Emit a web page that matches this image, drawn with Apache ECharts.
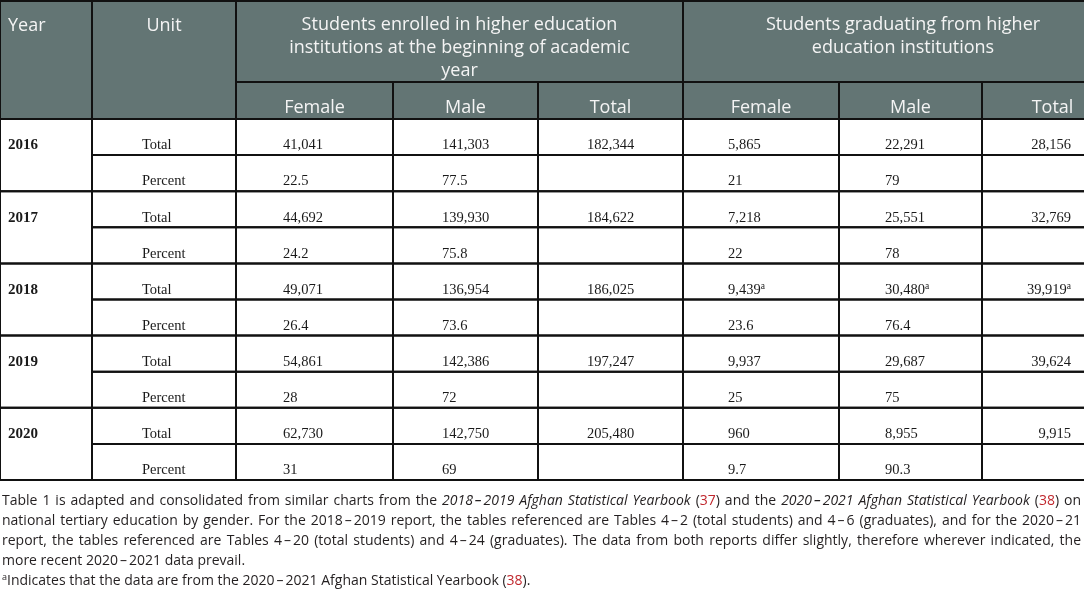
<!DOCTYPE html>
<html><head><meta charset="utf-8">
<script src="https://cdn.jsdelivr.net/npm/echarts@6/dist/echarts.min.js"></script>
<style>html,body{margin:0;padding:0;background:#fff;}#c{width:1084px;height:590px;}</style>
</head><body><div id="c"></div>
<script>
// ---------------- data ----------------
const years = ['2016', '2017', '2018', '2019', '2020'];
const units = ['Total', 'Percent'];
const topHeaders = ['Year', 'Unit'];
const groupHeaders = [
  'Students enrolled in higher education\ninstitutions at the beginning of academic\nyear',
  'Students graduating from higher\neducation institutions'
];
const subHeaders = ['Female', 'Male', 'Total', 'Female', 'Male', 'Total'];

const enrolledFemale = [41041, 44692, 49071, 54861, 62730];
const enrolledMale = [141303, 139930, 136954, 142386, 142750];
const enrolledTotal = [182344, 184622, 186025, 197247, 205480];
const enrolledFemalePct = ['22.5', '24.2', '26.4', '28', '31'];
const enrolledMalePct = ['77.5', '75.8', '73.6', '72', '69'];

const gradFemale = [5865, 7218, 9439, 9937, 960];
const gradMale = [22291, 25551, 30480, 29687, 8955];
const gradTotal = [28156, 32769, 39919, 39624, 9915];
const gradFemalePct = ['21', '22', '23.6', '25', '9.7'];
const gradMalePct = ['79', '78', '76.4', '75', '90.3'];
const gradFromNewYearbook = [false, false, true, false, false]; // superscript a

const footnoteLines = [
  'Table 1 is adapted and consolidated from similar charts from the <i>2018–2019 Afghan Statistical Yearbook</i> (<r>37</r>) and the <i>2020–2021 Afghan Statistical Yearbook</i> (<r>38</r>) on',
  'national tertiary education by gender. For the 2018–2019 report, the tables referenced are Tables 4–2 (total students) and 4–6 (graduates), and for the 2020–21',
  'report, the tables referenced are Tables 4–20 (total students) and 4–24 (graduates). The data from both reports differ slightly, therefore wherever indicated, the',
  'more recent 2020–2021 data prevail.',
  '<s>a</s>Indicates that the data are from the 2020–2021 Afghan Statistical Yearbook (<r>38</r>).'
];
const footnoteJustified = [true, true, true, false, false];

// ---------------- layout / style ----------------
const colEdges = [0, 92, 236, 393, 538, 683, 839, 982, 1123];
const colTextAlign = ['left', 'left', 'left', 'left', 'left', 'left', 'left', 'right'];
const colTextInset = [8, 50, 47, 49, 49, 45, 46, 52];
const HEAD_SPLIT = 82, HEAD_BOTTOM = 119, TABLE_BOTTOM = 480;
const TEXT_DROP = 26.5;
const HEAD_BG = '#637574', HEAD_FG = '#f4f4f4', LINE = '#111111', BODY_FG = '#1a1a1a';
const SANS = '"Open Sans", "Noto Sans", sans-serif';
const SERIF = '"Liberation Serif", "DejaVu Serif", serif';
const FN_SIZE = 14, FN_COLOR = '#231f20', FN_RED = '#c0272d';
const FN_X0 = 2, FN_X1 = 1081, FN_Y0 = 501.5, FN_LH = 20;

const fmt = v => v.toLocaleString('en-US');

// ---------------- cells ----------------
const rowKeys = [];
const cells = [];
years.forEach((y, yi) => {
  units.forEach((u, ui) => {
    const r = yi * 2 + ui;
    rowKeys.push(y + ' ' + u);
    const isTotal = ui === 0;
    const vals = isTotal
      ? [fmt(enrolledFemale[yi]), fmt(enrolledMale[yi]), fmt(enrolledTotal[yi]),
         fmt(gradFemale[yi]), fmt(gradMale[yi]), fmt(gradTotal[yi])]
      : [enrolledFemalePct[yi], enrolledMalePct[yi], '', gradFemalePct[yi], gradMalePct[yi], ''];
    cells.push({ col: 1, row: r, text: u, flag: false });
    vals.forEach((v, k) => {
      cells.push({ col: k + 2, row: r, text: v, flag: isTotal && k >= 3 && gradFromNewYearbook[yi] });
    });
  });
});
const yearCells = years.map((y, yi) => ({ col: 0, row: yi * 2, text: y }));

const bodyRich = {
  n: { fontSize: 14.5, fontFamily: SERIF, fill: BODY_FG, lineHeight: 16 },
  s: { fontSize: 9.5, fontFamily: SERIF, fill: BODY_FG, lineHeight: 9, verticalAlign: 'top' }
};

function renderCell(params, api) {
  const isYear = params.seriesIndex === 0;
  const c = isYear ? yearCells[params.dataIndex] : cells[params.dataIndex];
  const pa = api.coord([colEdges[c.col], api.value(1)]);
  const pb = api.coord([colEdges[c.col + 1], api.value(1)]);
  const h = api.size([0, 1])[1];
  const top = pa[1] - h / 2;
  const height = isYear ? h * 2 : h;
  const align = colTextAlign[c.col];
  const tx = align === 'left' ? pa[0] + colTextInset[c.col] : pb[0] - colTextInset[c.col];
  const text = c.text ? (c.flag ? '{n|' + c.text + '}{s|a}' : '{n|' + c.text + '}') : '';
  const rich = isYear
    ? { n: Object.assign({}, bodyRich.n, { fontWeight: 'bold', fontSize: 15 }) }
    : bodyRich;
  return {
    type: 'group',
    children: [
      { type: 'rect', shape: { x: pa[0], y: top, width: pb[0] - pa[0], height: height },
        style: { fill: 'none', stroke: LINE, lineWidth: 2 } },
      { type: 'text', x: tx, y: top + TEXT_DROP,
        style: { text: text, rich: rich, align: align, verticalAlign: 'middle' } }
    ]
  };
}

const chart = echarts.init(document.getElementById('c'), null, { renderer: 'canvas' });
chart.setOption({
  animation: false,
  backgroundColor: '#ffffff',
  grid: { left: 0, right: 0, top: HEAD_BOTTOM, bottom: 590 - TABLE_BOTTOM },
  xAxis: { type: 'value', min: 0, max: 1084, show: false },
  yAxis: { type: 'category', data: rowKeys, inverse: true, show: false },
  series: [
    { type: 'custom', renderItem: renderCell, clip: false, silent: true,
      data: yearCells.map(c => [c.col, c.row]) },
    { type: 'custom', renderItem: renderCell, clip: false, silent: true,
      data: cells.map(c => [c.col, c.row]) }
  ]
});

// ---------------- header (graphic, x from the axis) ----------------
const px = v => chart.convertToPixel({ xAxisIndex: 0 }, v);
const E = colEdges.map(px);
const g = [];
g.push({ type: 'rect', shape: { x: E[0], y: 0, width: E[8] - E[0], height: HEAD_BOTTOM }, style: { fill: HEAD_BG }, z: 1 });
const strokeRect = (x0, y0, x1, y1) => g.push({ type: 'rect', shape: { x: x0, y: y0, width: x1 - x0, height: y1 - y0 },
  style: { fill: 'none', stroke: LINE, lineWidth: 2 }, z: 2 });
const headText = (x, y, t, align) => g.push({ type: 'text', x: x, y: y, z: 3,
  style: { text: t, fill: HEAD_FG, fontSize: 18, fontFamily: SANS, align: align, verticalAlign: 'middle', lineHeight: 23 } });

strokeRect(E[0], 1, E[1], HEAD_BOTTOM);
strokeRect(E[1], 1, E[2], HEAD_BOTTOM);
strokeRect(E[2], 1, E[5], HEAD_SPLIT);
strokeRect(E[5], 1, E[8], HEAD_SPLIT);
for (let k = 2; k < 8; k++) strokeRect(E[k], HEAD_SPLIT, E[k + 1], HEAD_BOTTOM);
headText(E[0] + 8, 26, topHeaders[0], 'left');
headText((E[1] + E[2]) / 2, 26, topHeaders[1], 'center');
headText((E[2] + E[5]) / 2, 25 + 23, groupHeaders[0], 'center');
headText((E[5] + E[8]) / 2, 25 + 11.5, groupHeaders[1], 'center');
subHeaders.forEach((s, k) => headText((E[k + 2] + E[k + 3]) / 2, 108, s, 'center'));

// ---------------- footnote (justified words) ----------------
const mctx = document.createElement('canvas').getContext('2d');
const styleFont = s => ((s === 'i' || s === 'di') ? 'italic ' : 'normal ') + (s === 's' ? 9 : FN_SIZE) + 'px ' + SANS;
const fragWidth = f => { mctx.font = styleFont(f.s); return mctx.measureText(f.t).width + ((f.s === 'dn' || f.s === 'di') ? 4 : 0); };
const fnBase = { fontSize: FN_SIZE, fontFamily: SANS, fill: FN_COLOR, lineHeight: 18 };
const fnRich = {
  n: fnBase,
  i: Object.assign({}, fnBase, { fontStyle: 'italic' }),
  r: Object.assign({}, fnBase, { fill: FN_RED }),
  dn: Object.assign({}, fnBase, { padding: [0, 2, 0, 2] }),
  di: Object.assign({}, fnBase, { fontStyle: 'italic', padding: [0, 2, 0, 2] }),
  s: { fontSize: 9, fontFamily: SANS, fill: FN_COLOR, lineHeight: 9, verticalAlign: 'top' }
};
mctx.font = styleFont('n');
const spaceW = mctx.measureText(' ').width;

footnoteLines.forEach((line, li) => {
  const tokens = [];
  const re = /<(i|r|s)>(.*?)<\/\1>|([^<]+)/g;
  let m;
  while ((m = re.exec(line))) {
    if (m[1]) tokens.push({ t: m[2], s: m[1] }); else tokens.push({ t: m[3], s: 'n' });
  }
  const words = [[]];
  tokens.forEach(tk => {
    tk.t.split(' ').forEach((piece, pi) => {
      if (pi > 0) words.push([]);
      const parts = piece.split('–');
      parts.forEach((p, di) => {
        if (di > 0) words[words.length - 1].push({ t: '–', s: tk.s === 'i' ? 'di' : 'dn' });
        if (p) words[words.length - 1].push({ t: p, s: tk.s });
      });
    });
  });
  const ws = words.filter(w => w.length);
  const widths = ws.map(w => w.reduce((a, f) => a + fragWidth(f), 0));
  const total = widths.reduce((a, b) => a + b, 0);
  const gap = footnoteJustified[li] && ws.length > 1 ? (FN_X1 - FN_X0 - total) / (ws.length - 1) : spaceW;
  let x = FN_X0;
  const y = FN_Y0 + li * FN_LH;
  ws.forEach((w, wi) => {
    g.push({ type: 'text', x: x, y: y, z: 3,
      style: { text: w.map(f => '{' + f.s + '|' + f.t + '}').join(''), rich: fnRich, align: 'left', verticalAlign: 'middle' } });
    x += widths[wi] + gap;
  });
});

chart.setOption({ graphic: { elements: g } });
</script>
</body></html>
